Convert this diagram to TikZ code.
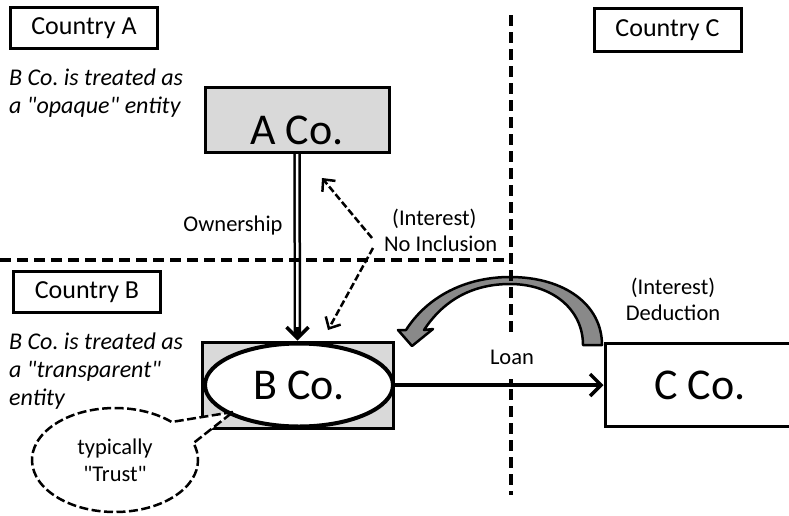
\documentclass[tikz,border=0pt]{standalone}
\usepackage{fontspec}
\setmainfont{Carlito}[Ligatures=TeXOff]
\usetikzlibrary{arrows.meta,calc,shapes.geometric,shapes.callouts}
\definecolor{boxgray}{RGB}{217,217,217}
\definecolor{arrowgray}{RGB}{137,137,137}
\frenchspacing

\begin{document}
\begin{tikzpicture}[x=1pt,y=-1pt,
  country/.style={draw,line width=3pt,minimum width=147pt,minimum height=41pt,inner sep=0pt,
    font=\fontsize{26}{30}\selectfont},
  company/.style={draw,line width=3pt,inner sep=0pt,font=\fontsize{44}{50}\selectfont},
  lbl/.style={font=\fontsize{22.5}{26}\selectfont,align=center,inner sep=0pt},
  note/.style={font=\fontsize{24}{28}\selectfont\itshape,align=left,inner sep=0pt,anchor=north west},
  border/.style={line width=3.5pt,dash pattern=on 11pt off 6pt},
  flow/.style={line width=3.5pt,-{Straight Barb[length=11pt,width=22pt]}},
  ownline/.style={line width=2.5pt,double=white,double distance=2.5pt},
  hint/.style={line width=2.5pt,dash pattern=on 7pt off 3pt,-{Straight Barb[length=9pt,width=17pt]}},
]
\useasboundingbox (0,0) rectangle (789,515);

% jurisdiction labels
\node[country] (ctyA) at (84,28) {Country A};
\node[country] (ctyB) at (87,292) {Country B};
\node[country,minimum height=43pt] (ctyC) at (667.5,30) {Country C};

% notes on how B Co. is treated
\node[note] (noteA) at (9,69) {B Co. is treated as\\a "opaque" entity};
\node[note] (noteB) at (9,333) {B Co. is treated as\\a "transparent"\\entity};

% companies
\node[company,fill=boxgray,minimum width=184pt,minimum height=65pt,
  text height=48pt,text depth=0pt] (A) at (297,120) {A Co.};
\node[draw,line width=3pt,fill=boxgray,minimum width=191pt,minimum height=86pt] (Brect) at (297.5,385) {};
\node[ellipse,company,line width=4pt,fill=white,minimum width=188pt,minimum height=83pt] (B) at (299,385) {B Co.};
\node[company,minimum width=190pt,minimum height=83pt] (C) at (700,385) {C Co.};

% callout
\node[ellipse callout,draw,line width=2.5pt,dash pattern=on 9pt off 3.5pt,fill=white,
  minimum width=166pt,minimum height=104pt,callout absolute pointer={(233,412)},
  callout pointer arc=28,lbl] (trust) at (115,460) {typically\\[1pt]"Trust"};

% interest flowing back from C Co. to B Co.
\draw[line width=2.5pt,line join=round,fill=arrowgray]
  (583,345) -- (602,345)
  .. controls (602,305) and (565,277) .. (510,277)
  .. controls (465,277) and (427,297) .. (406,330)
  -- (398,330) -- (412,346) -- (433,329) -- (424,330)
  .. controls (445,298) and (475,284) .. (510,284)
  .. controls (553,284) and (583,310) .. (583,345) -- cycle;

% ownership
\draw[ownline] (A.south) -- ($(Brect.north)+(0,-6)$);
\draw[flow] ($(Brect.north)+(0,-14)$) -- (Brect.north);
\node[lbl] (own) at (233,225) {Ownership};

% loan
\draw[flow] (B.east) -- (C.west);

% interest labels
\node[lbl,align=left,anchor=west] (noinc) at (384,230) {\hspace*{8pt}(Interest)\\No Inclusion};
\node[lbl] (deduct) at (673,299) {(Interest)\\Deduction};
\coordinate (hintU) at (372,238);
\coordinate (hintL) at (373,248);
\coordinate (tipA) at (322,178);
\coordinate (tipB) at (328,330);
\draw[hint] (hintU) -- (tipA);
\draw[hint] (hintL) -- (tipB);

% borders between countries
\coordinate (h0) at (0,260);
\coordinate (h1) at (513,260);
\coordinate (v0) at (511,15);
\coordinate (v1) at (511,495);
\draw[border] (h0) -- (h1);
\draw[border] (v0) -- (v1);

% loan label sits on a white patch over the border
\node[lbl,fill=white,inner xsep=3pt,minimum height=44pt] (loan) at (512,357) {Loan};
\end{tikzpicture}
\end{document}
